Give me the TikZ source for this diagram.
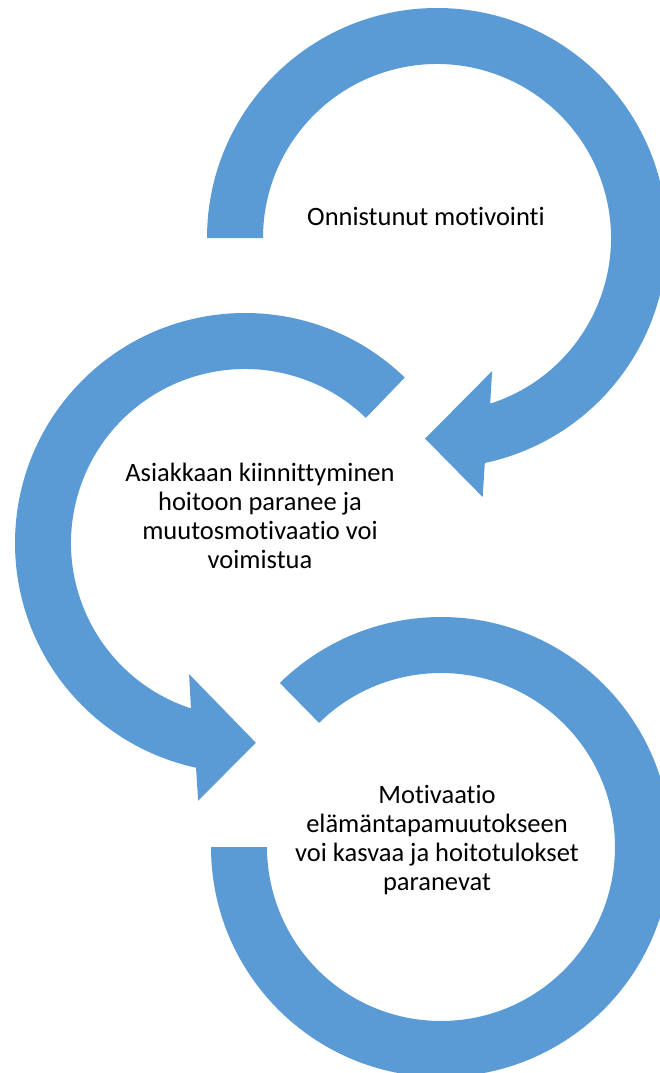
\documentclass[tikz,border=0pt]{standalone}
\usepackage{fontspec}
\setmainfont{Carlito}[Ligatures=NoCommon]
\usetikzlibrary{calc}
\definecolor{arrowblue}{HTML}{5B9BD5}
\begin{document}
\begin{tikzpicture}[x=1pt,y=-1pt,
  band/.style={fill=arrowblue,draw=none},
  lbl/.style={font=\fontsize{26.5}{29}\selectfont, align=center, inner sep=0pt, text=black}]
\useasboundingbox (0,0) rectangle (660,1073);
\clip (0,0) rectangle (660,1073);
\coordinate (c1) at (437,238);
\coordinate (c2) at (245,543);
\coordinate (c3) at (441,847);
% arrow 1 (clockwise, top)
\fill[band] ($(c1)+(180:230)$) arc[start angle=180,end angle=438,radius=230]
  -- ($(c1)+(440:263)$) -- ($(c1)+(453.4:201)$) -- ($(c1)+(427.5:144)$)
  -- ($(c1)+(432.2:174)$) arc[start angle=432.2,end angle=180,radius=174] -- cycle;
% arrow 2 (counter-clockwise, middle)
\fill[band] ($(c2)+(-46:230)$) arc[start angle=-46,end angle=-257.7,radius=230]
  -- ($(c2)+(-259.7:262)$) -- ($(c2)+(-273.1:200)$) -- ($(c2)+(-246.9:142.5)$)
  -- ($(c2)+(-251.9:174)$) arc[start angle=-251.9,end angle=-46,radius=174] -- cycle;
% ring 3 (bottom)
\fill[band] ($(c3)+(180:230)$) arc[start angle=180,end angle=-134.5,radius=230]
  -- ($(c3)+(-134.5:174)$) arc[start angle=-134.5,end angle=180,radius=174] -- cycle;
% labels
\node[lbl, anchor=base] (t1) at (426,225) {Onnistunut motivointi};
\node[lbl] (t2) at (260,516) {Asiakkaan kiinnittyminen\\hoitoon paranee ja\\muutosmotivaatio voi\\voimistua};
\node[lbl] (t3) at (437,840) {Motivaatio\\elämäntapamuutokseen\\voi kasvaa ja hoitotulokset\\paranevat};
\end{tikzpicture}
\end{document}
